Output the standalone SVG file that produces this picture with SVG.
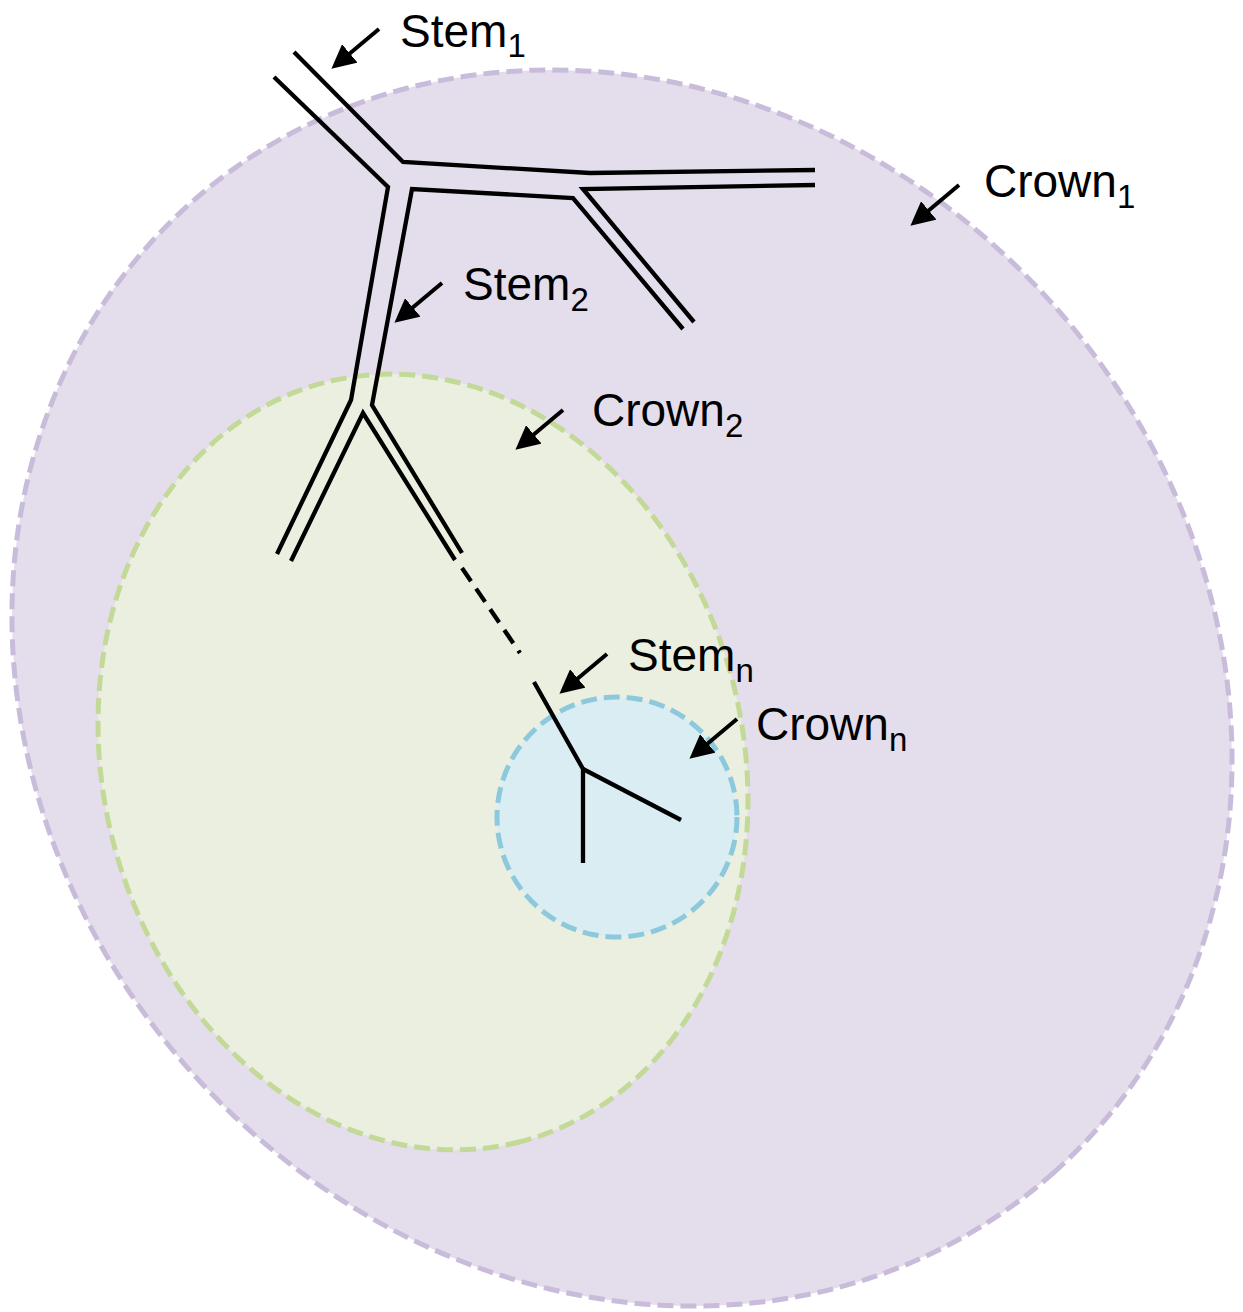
<svg xmlns="http://www.w3.org/2000/svg" width="1243" height="1312" viewBox="0 0 1243 1312">
<style>
.crown{stroke-width:5;stroke-dasharray:16 7}
.stem{fill:none;stroke:#000;stroke-width:4.3;stroke-linejoin:miter}
.arrow{stroke:#000;stroke-width:4;marker-end:url(#ah)}
.lbl{font-family:"Liberation Sans",Arial,sans-serif;font-size:46px;fill:#000}
.sub{font-size:33px}
</style>
<defs>
<marker id="ah" markerWidth="6" markerHeight="6" refX="4.5" refY="3" orient="auto" markerUnits="strokeWidth" viewBox="0 0 6 6">
<path d="M0,0 L6,3 L0,6 Z" fill="#000"/>
</marker>
</defs>
<rect width="1243" height="1312" fill="#fff"/>
<g id="crown1"><ellipse class="crown" cx="622" cy="688" rx="649" ry="577" transform="rotate(48.2 622 688)" fill="#E4DEEC" stroke="#C8BCDA"/></g>
<g id="crown2"><ellipse class="crown" cx="423" cy="762" rx="392" ry="320" transform="rotate(75.5 423 762)" fill="#EBEFDF" stroke="#C3D998"/></g>
<g id="crownn"><circle class="crown" cx="617" cy="817" r="120" fill="#DAEDF3" stroke="#8CC9DC"/></g>
<g id="stem1">
<polyline class="stem" points="294,52 403,162 590,173 815,170"/>
<polyline class="stem" points="815,185 583,189 694,322"/>
</g>
<g id="stem2">
<polyline class="stem" points="274,77 388,187 351,400 277,554"/>
<polyline class="stem" points="683,329 573,198 412,189 372,405 462,553"/>
<polyline class="stem" points="291,561 363,413 455,560"/>
</g>
<g id="stemn">
<line x1="462" y1="568" x2="520" y2="653" stroke="#000" stroke-width="4.3" stroke-dasharray="16 9"/>
<polyline class="stem" points="534,682 583,769 583,863"/>
<line x1="583" y1="769" x2="681" y2="820" stroke="#000" stroke-width="4.3"/>
</g>
<g id="connectors">
<line class="arrow" x1="379" y1="29" x2="336" y2="65"/>
<line class="arrow" x1="442" y1="283" x2="399" y2="319"/>
<line class="arrow" x1="959" y1="185" x2="915" y2="222"/>
<line class="arrow" x1="563" y1="410" x2="520" y2="446"/>
<line class="arrow" x1="607" y1="654" x2="564" y2="690"/>
<line class="arrow" x1="737" y1="719" x2="694" y2="755"/>
</g>
<g id="labels">
<text class="lbl" x="400" y="47">Stem<tspan class="sub" dy="10">1</tspan></text>
<text class="lbl" x="463" y="300">Stem<tspan class="sub" dy="11">2</tspan></text>
<text class="lbl" x="984" y="197">Crown<tspan class="sub" dy="11">1</tspan></text>
<text class="lbl" x="592" y="426">Crown<tspan class="sub" dy="11">2</tspan></text>
<text class="lbl" x="628" y="671">Stem<tspan class="sub" dy="11">n</tspan></text>
<text class="lbl" x="756" y="740">Crown<tspan class="sub" dy="11">n</tspan></text>
</g>
</svg>
